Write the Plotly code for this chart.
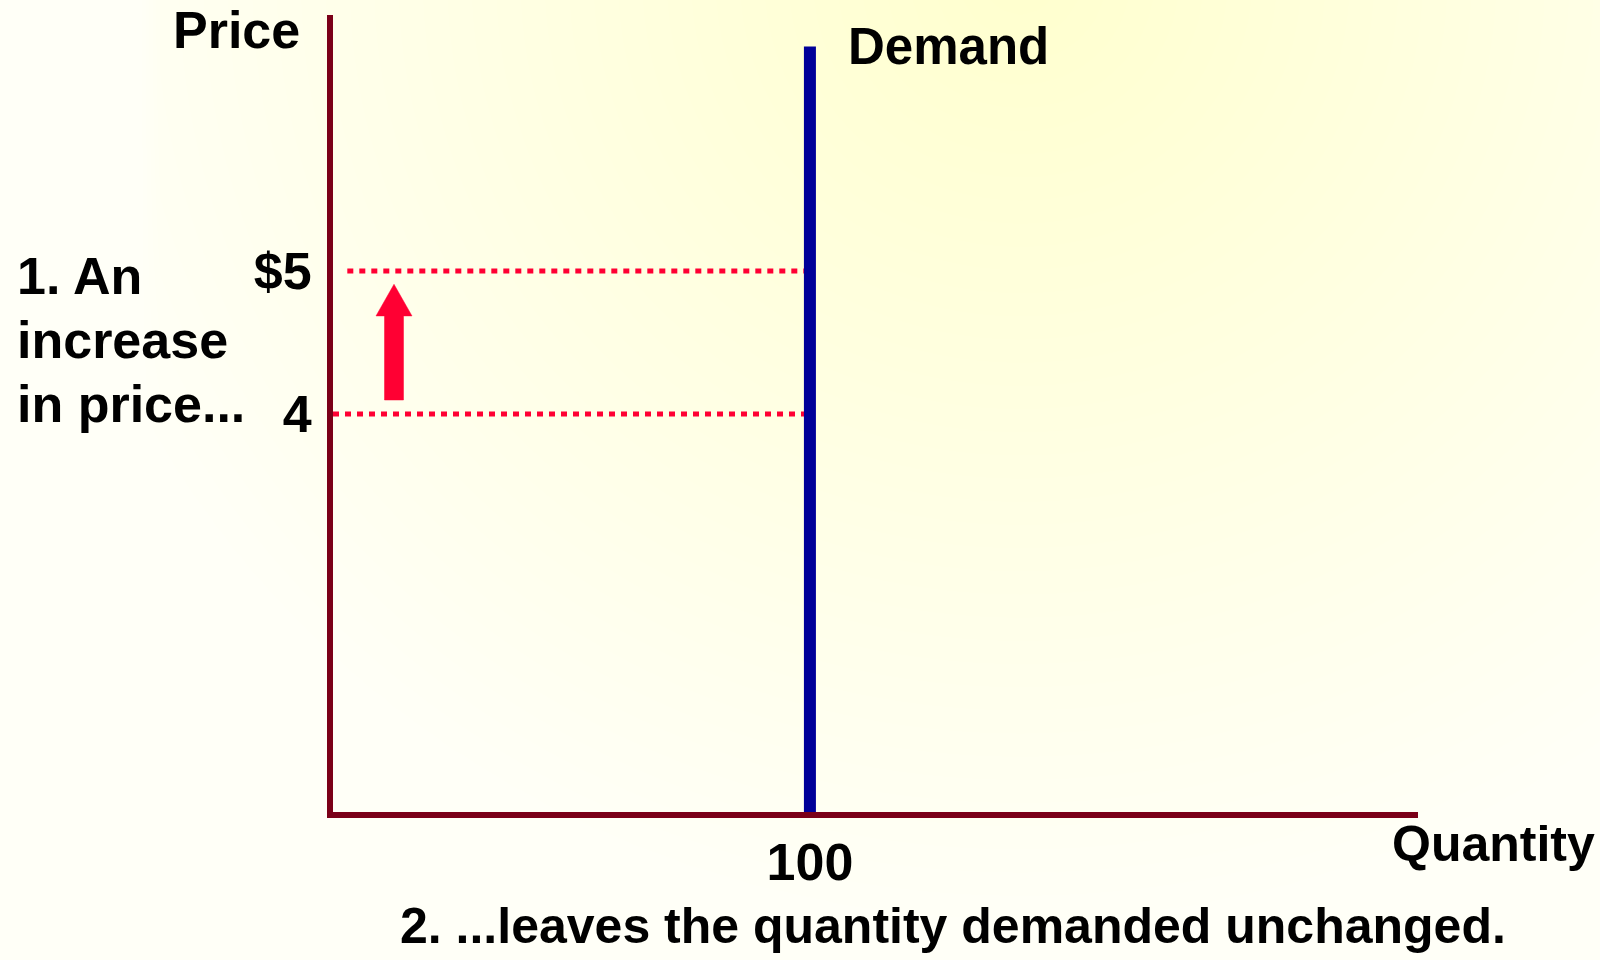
import numpy as np
import plotly.graph_objects as go

# ---------------- data ----------------
quantity_demand = [100, 100]          # vertical (perfectly inelastic) demand
price_demand = [1.217, 6.57]
old_price = 4
new_price = 5
price_line_start = [0, 3]             # x where the dotted price lines start (for 4, $5)
price_ticks = [4, 5]
price_tick_labels = ["4", "$5"]
qty_ticks = [100]
qty_tick_labels = ["100"]

W, H = 1600, 960
FONT = "Liberation Sans, Arial, sans-serif"
FS = 52
RED = "#FF0033"

fig = go.Figure()

# ---------------- background gradient (full paper) ----------------
gx = np.linspace(0, W, 81)
gy = np.linspace(0, H, 49)
XX, YY = np.meshgrid(gx, gy)
d = np.sqrt(((XX - 1020) / 1000) ** 2 + ((YY + 20) / 950) ** 2)
d = np.clip(d, 0, 1)
d = np.where(XX < 158, np.minimum(1, d + 0.35), d)
fig.add_trace(go.Heatmap(
    x=gx, y=gy, z=d, zmin=0, zmax=1, zsmooth="best",
    colorscale=[[0, "#FFFFCE"], [1, "#FFFFF7"]],
    showscale=False, hoverinfo="skip", xaxis="x", yaxis="y",
))

# ---------------- dotted price lines ----------------
for p, x0 in zip([old_price, new_price], price_line_start):
    fig.add_trace(go.Scatter(
        x=[x0, quantity_demand[0]], y=[p, p], mode="lines",
        line=dict(color=RED, width=5, dash="6px,6px"),
        hoverinfo="skip", showlegend=False, xaxis="x2", yaxis="y2",
    ))

# ---------------- demand line ----------------
fig.add_trace(go.Scatter(
    x=quantity_demand, y=price_demand, mode="lines",
    line=dict(color="#000099", width=12),
    hoverinfo="skip", showlegend=False, xaxis="x2", yaxis="y2",
))

# ---------------- arrow (price increase) ----------------
ax_c, shaft_hw, head_hw = 12.79, 1.99, 3.77
y_bot = old_price + 0.098
y_base = new_price - 0.314
y_tip = new_price - 0.093
arrow_x = [ax_c - shaft_hw, ax_c - shaft_hw, ax_c - head_hw, ax_c, ax_c + head_hw,
           ax_c + shaft_hw, ax_c + shaft_hw, ax_c - shaft_hw]
arrow_y = [y_bot, y_base, y_base, y_tip, y_base, y_base, y_bot, y_bot]
fig.add_trace(go.Scatter(
    x=arrow_x, y=arrow_y, mode="lines", fill="toself", fillcolor=RED,
    line=dict(color=RED, width=0.5),
    hoverinfo="skip", showlegend=False, xaxis="x2", yaxis="y2",
))

tickfont = dict(family=FONT, size=FS, color="black", weight="bold")

fig.update_layout(
    width=W, height=H,
    margin=dict(l=0, r=0, t=0, b=0),
    paper_bgcolor="white",
    plot_bgcolor="rgba(0,0,0,0)",
    showlegend=False,
    xaxis=dict(domain=[0, 1], range=[0, W], visible=False, fixedrange=True),
    yaxis=dict(domain=[0, 1], range=[H, 0], visible=False, fixedrange=True),
    xaxis2=dict(
        domain=[333 / W, 1418 / W], anchor="y2", range=[0, 227.5],
        showline=True, linewidth=6, linecolor="#7B0018",
        showgrid=False, zeroline=False, ticks="",
        tickvals=qty_ticks, ticktext=qty_tick_labels, tickfont=tickfont,
        ticklabelstandoff=0,
    ),
    yaxis2=dict(
        domain=[1 - 812 / H, 1 - 15 / H], anchor="x2", range=[1.217, 6.79],
        showline=True, linewidth=6, linecolor="#7B0018",
        showgrid=False, zeroline=False, ticks="",
        tickvals=price_ticks, ticktext=price_tick_labels, tickfont=tickfont,
        ticklabelstandoff=5,
    ),
)


def txt(s, px, py, xanchor="left", size=FS):
    fig.add_annotation(
        text=s, xref="paper", yref="paper", x=px / W, y=1 - py / H,
        xanchor=xanchor, yanchor="middle", showarrow=False,
        font=dict(family=FONT, size=size, color="black", weight="bold"),
    )


txt("Price", 236, 30.5, "center")
txt("Demand", 846, 46.5, size=51)
txt("1. An", 15, 276)
txt("increase", 15, 340)
txt("in price...", 15, 404)
txt("Quantity", 1390, 843.5, size=50)
txt("2. ...leaves the quantity demanded unchanged.", 953, 926, "center", size=50)

fig.write_html(
    "out.html",
    config={"displayModeBar": False},
    post_script="document.body.style.margin='0';document.body.style.overflow='hidden';",
)
